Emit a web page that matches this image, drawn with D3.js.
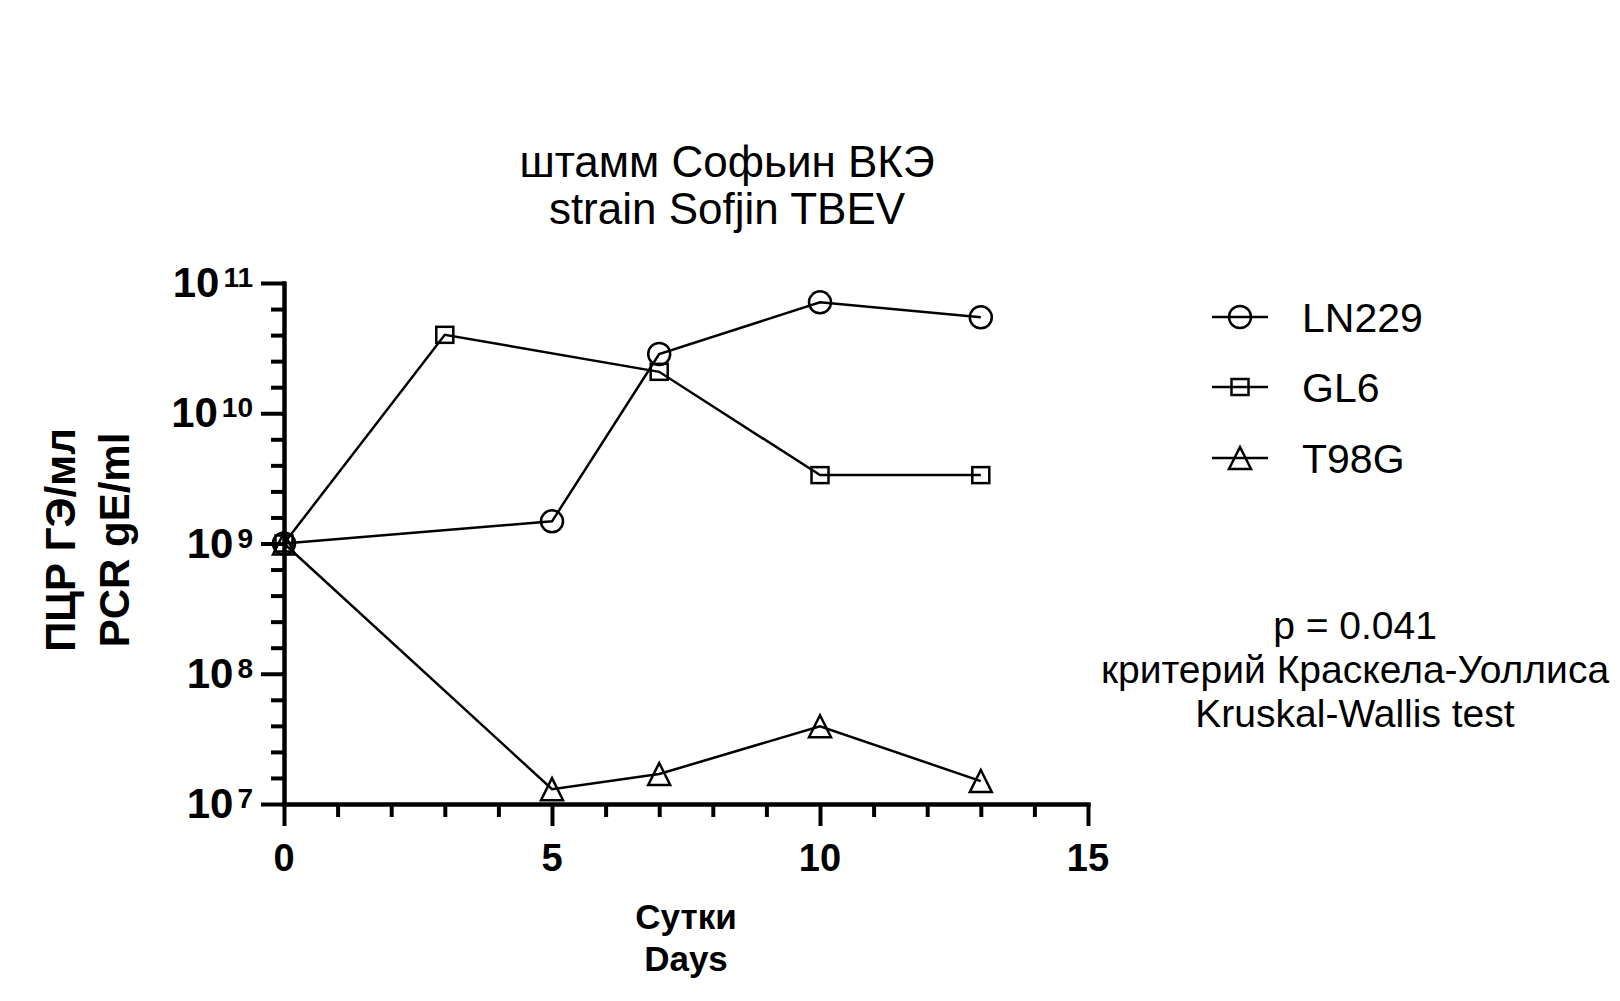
<!DOCTYPE html>
<html>
<head>
<meta charset="utf-8">
<script src="https://cdn.jsdelivr.net/npm/d3@7"></script>
<style>
  body { margin: 0; background: #fff; }
  text { font-family: "Liberation Sans", Arial, sans-serif; fill: #000; }
</style>
</head>
<body>
<svg id="chart" width="1620" height="1001"></svg>
<script>
// values (day, PCR gE/ml)
var ln229 = [[0, 1e9], [5, 1.48e9], [7, 2.85e10], [10, 7.1e10], [13, 5.45e10]];
var gl6 = [[0, 1e9], [3, 4.0e10], [7, 2.08e10], [10, 3.35e9], [13, 3.35e9]];
var t98g = [[0, 1e9], [5, 1.3e7], [7, 1.7e7], [10, 3.95e7], [13, 1.5e7]];

var seriesNames = ["LN229", "GL6", "T98G"];
var seriesShapes = ["circle", "square", "triangle"];

var xMajor = [0, 5, 10, 15];
var xMinor = [1, 2, 3, 4, 6, 7, 8, 9, 11, 12, 13, 14];
var yExponents = [7, 8, 9, 10, 11];
var yMinorSteps = [0.2, 0.4, 0.6, 0.8];

var titleLines = ["штамм Софьин ВКЭ", "strain Sofjin TBEV"];
var yLabelLines = ["ПЦР ГЭ/мл", "PCR gE/ml"];
var xLabelLines = ["Сутки", "Days"];
var statLines = ["p = 0.041", "критерий Краскела-Уоллиса", "Kruskal-Wallis test"];

var svg = d3.select("#chart");

var x = d3.scaleLinear().domain([0, 15]).range([284, 1088]);
var y = d3.scaleLog().domain([1e7, 1e11]).range([804, 283]);

// minor ticks on y, evenly spaced in log units
var yMinor = [];
yExponents.slice(0, -1).forEach(function(e) {
  yMinorSteps.forEach(function(s) { yMinor.push(Math.pow(10, e + s)); });
});
var yMajor = yExponents.map(function(e) { return Math.pow(10, e); });

function styleAxis(g) {
  g.selectAll("path.domain").attr("stroke", "#000").attr("stroke-width", 4)
    .attr("stroke-linecap", "square");
  g.selectAll(".tick line").attr("stroke", "#000").attr("stroke-width", 4);
  g.selectAll(".tick text").remove();
}

svg.append("g")
  .attr("transform", "translate(0,804)")
  .call(d3.axisBottom(x).tickValues(xMinor).tickSize(13).tickSizeOuter(0))
  .call(styleAxis);
svg.append("g")
  .attr("transform", "translate(0,804)")
  .call(d3.axisBottom(x).tickValues(xMajor).tickSize(22).tickSizeOuter(0))
  .call(styleAxis);
svg.append("g")
  .attr("transform", "translate(284,0)")
  .call(d3.axisLeft(y).tickValues(yMinor).tickSize(13).tickSizeOuter(0))
  .call(styleAxis);
svg.append("g")
  .attr("transform", "translate(284,0)")
  .call(d3.axisLeft(y).tickValues(yMajor).tickSize(23).tickSizeOuter(0))
  .call(styleAxis);

// x tick labels
svg.selectAll("text.xtick")
  .data(xMajor)
  .enter()
  .append("text")
  .attr("class", "xtick")
  .attr("x", function(d) { return x(d); })
  .attr("y", 871)
  .attr("text-anchor", "middle")
  .attr("font-size", 38)
  .attr("font-weight", "bold")
  .text(function(d) { return d; });

// y tick labels 10^n
var yt = svg.selectAll("text.ytick")
  .data(yExponents)
  .enter()
  .append("text")
  .attr("class", "ytick")
  .attr("x", 253)
  .attr("y", function(d) { return y(Math.pow(10, d)) + 14; })
  .attr("text-anchor", "end")
  .attr("font-weight", "bold");
yt.append("tspan").attr("font-size", 42).text("10");
yt.append("tspan").attr("font-size", 28).attr("dx", 4).attr("dy", -10)
  .text(function(d) { return d; });

// markers
function marker(g, shape) {
  if (shape == "circle") {
    g.append("circle").attr("r", 11);
  } else if (shape == "square") {
    g.append("rect").attr("x", -8.5).attr("y", -8).attr("width", 17).attr("height", 16);
  } else {
    g.append("path").attr("d", "M0,-11L11,11L-11,11Z");
  }
  g.selectAll("*").attr("fill", "none").attr("stroke", "#000").attr("stroke-width", 2.5);
}

var line = d3.line()
  .x(function(d) { return x(d[0]); })
  .y(function(d) { return y(d[1]); });

[ln229, gl6, t98g].forEach(function(data, i) {
  svg.append("path")
    .datum(data)
    .attr("d", line)
    .attr("fill", "none")
    .attr("stroke", "#000")
    .attr("stroke-width", 2.5);
  data.forEach(function(d) {
    var g = svg.append("g")
      .attr("transform", "translate(" + x(d[0]) + "," + y(d[1]) + ")");
    marker(g, seriesShapes[i]);
  });
});

// legend
var legendY = [317, 387, 458];
seriesNames.forEach(function(name, i) {
  svg.append("line")
    .attr("x1", 1212).attr("x2", 1268)
    .attr("y1", legendY[i]).attr("y2", legendY[i])
    .attr("stroke", "#000").attr("stroke-width", 2.5);
  var g = svg.append("g").attr("transform", "translate(1240," + legendY[i] + ")");
  marker(g, seriesShapes[i]);
  svg.append("text")
    .attr("x", 1302)
    .attr("y", legendY[i] + 15)
    .attr("font-size", 41)
    .text(name);
});

// title
svg.selectAll("text.title")
  .data(titleLines)
  .enter()
  .append("text")
  .attr("class", "title")
  .attr("x", 727)
  .attr("y", function(d, i) { return 177 + i * 47; })
  .attr("text-anchor", "middle")
  .attr("font-size", 44)
  .text(function(d) { return d; });

// axis titles
yLabelLines.forEach(function(t, i) {
  svg.append("text")
    .attr("transform", "translate(" + (75 + i * 54) + ",540) rotate(-90)")
    .attr("text-anchor", "middle")
    .attr("font-size", 42)
    .attr("font-weight", "bold")
    .text(t);
});
xLabelLines.forEach(function(t, i) {
  svg.append("text")
    .attr("x", 686)
    .attr("y", 929 + i * 42)
    .attr("text-anchor", "middle")
    .attr("font-size", 35)
    .attr("font-weight", "bold")
    .text(t);
});

// test result
statLines.forEach(function(t, i) {
  svg.append("text")
    .attr("x", 1355)
    .attr("y", 639 + i * 44)
    .attr("text-anchor", "middle")
    .attr("font-size", 39)
    .text(t);
});
</script>
</body>
</html>
